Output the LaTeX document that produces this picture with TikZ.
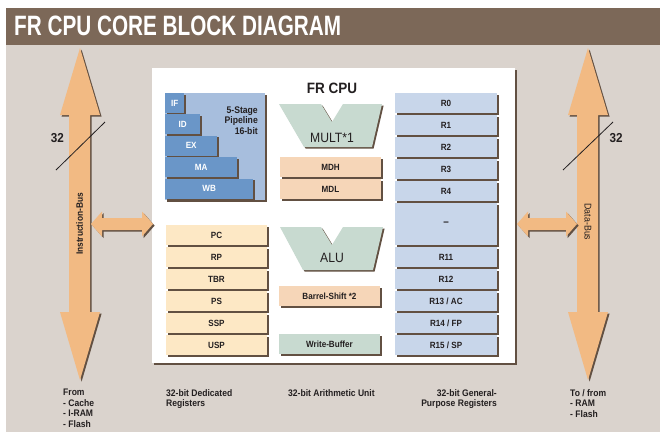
\documentclass[tikz,border=0pt]{standalone}
\usepackage{fontspec}
\setmainfont{Liberation Sans}[FakeStretch=0.9]
\newfontfamily\titlefont{Liberation Sans}[FakeStretch=0.74]
\usetikzlibrary{shadows}
\definecolor{bgc}{RGB}{218,211,205}
\definecolor{barc}{RGB}{124,104,88}
\definecolor{arrc}{RGB}{242,186,131}
\definecolor{shc}{RGB}{98,80,66}
\definecolor{pipec}{RGB}{167,190,221}
\definecolor{stagec}{RGB}{106,150,200}
\definecolor{genc}{RGB}{200,214,234}
\definecolor{dedc}{RGB}{253,232,197}
\definecolor{peachc}{RGB}{246,214,184}
\definecolor{aluc}{RGB}{200,218,208}
\definecolor{ink}{RGB}{35,31,32}
\tikzset{
  shd/.style={drop shadow={shadow xshift=1.6pt, shadow yshift=-1.6pt, fill=shc, opacity=1}},
  lbl/.style={font=\bfseries\fontsize{9}{10}\selectfont, text=ink},
  regbox/.style={shd, lbl, inner sep=0pt, minimum height=20pt},
  stagebox/.style={shd, font=\bfseries\fontsize{9}{10}\selectfont, text=white, fill=stagec, inner sep=0pt, minimum height=20pt, anchor=west},
  botlbl/.style={font=\bfseries\fontsize{9.5}{10.6}\selectfont, text=ink, inner sep=0pt, anchor=north west, align=left},
  num/.style={font=\bfseries\fontsize{13}{14}\selectfont, text=ink, inner sep=0pt, anchor=base},
  bigtxt/.style={font=\fontsize{13.5}{15}\selectfont, text=ink, inner sep=0pt, anchor=base},
}
\begin{document}
\begin{tikzpicture}[x=1pt,y=-1pt]
\useasboundingbox (0,0) rectangle (660,432);
% background and title
\fill[bgc] (6,45) rectangle (660,432);
\fill[barc] (6,8) rectangle (660,45);
\node[anchor=base west, inner sep=0pt, text=white, font=\titlefont\bfseries\fontsize{28}{30}\selectfont] (title) at (14,35) {FR CPU CORE BLOCK DIAGRAM};

% buses
\fill[arrc, shd] (80,48) -- (100,115) -- (90,115) -- (90,312) -- (100,312) -- (80,380) -- (60,312) -- (69,312) -- (69,115) -- (60,115) -- cycle;
\fill[arrc, shd] (588,48) -- (608,115) -- (598,115) -- (598,312) -- (608,312) -- (588,380) -- (568,312) -- (577,312) -- (577,115) -- (568,115) -- cycle;
\node[rotate=90, inner sep=0pt, font=\bfseries\fontsize{9.3}{10}\selectfont, text=ink] (ibus) at (79.5,224) {Instruction-Bus};
\node[rotate=-90, inner sep=0pt, font=\fontsize{9.8}{10}\selectfont, text=ink] (dbus) at (588,222) {Data-Bus};
\draw[ink, line width=0.8pt] (56,170) -- (105,122);
\draw[ink, line width=0.8pt] (563,170) -- (613,122);
\node[num] (w1) at (57.5,142) {32};
\node[num] (w2) at (616,142) {32};

% main box
\fill[white, drop shadow={shadow xshift=2pt, shadow yshift=-2pt, fill=shc, opacity=1}] (152,68) rectangle (515,363);
\node[anchor=base, inner sep=0pt, text=ink, font=\bfseries\fontsize{15}{16}\selectfont] (cpu) at (332,93) {FR CPU};

% side arrows
\fill[arrc, shd] (91,224) -- (102,211.5) -- (102,218) -- (142,218) -- (142,211.5) -- (153,224) -- (142,236.5) -- (142,230) -- (102,230) -- (102,236.5) -- cycle;
\fill[arrc, shd] (517,224) -- (528,211.5) -- (528,218) -- (566,218) -- (566,211.5) -- (577,224) -- (566,236.5) -- (566,230) -- (528,230) -- (528,236.5) -- cycle;

% pipeline
\node[shd, fill=pipec, inner sep=0pt, minimum width=100pt, minimum height=107pt] (pipe) at (215,146.5) {};
\node[stagebox, minimum width=19pt] (if) at (165,103) {IF};
\node[stagebox, minimum width=35pt] (id) at (165,124.4) {ID};
\node[stagebox, minimum width=52pt] (ex) at (165,145.8) {EX};
\node[stagebox, minimum width=72pt] (ma) at (165,167.2) {MA};
\node[stagebox, minimum width=88pt] (wb) at (165,188.6) {WB};
\node[anchor=north east, inner sep=0pt, align=right, text=ink, font=\bfseries\fontsize{9.6}{10.4}\selectfont] (ptxt) at (258,106.5) {5-Stage\\Pipeline\\16-bit};

% MULT
\fill[aluc, shd] (279,104) -- (321,104) -- (332,122) -- (343,104) -- (382,104) -- (372,147) -- (304,147) -- cycle;
\node[bigtxt] (mult) at (332,142) {MULT*1};
\node[regbox, fill=peachc, minimum width=101pt] (mdh) at (330.5,167) {MDH};
\node[regbox, fill=peachc, minimum width=101pt] (mdl) at (330.5,189) {MDL};

% ALU
\fill[aluc, shd] (280,227) -- (321,227) -- (332,245) -- (343,227) -- (383,227) -- (373,270) -- (303,270) -- cycle;
\node[bigtxt] (alu) at (332,262) {ALU};
\node[regbox, fill=peachc, minimum width=101pt] (bsh) at (329.5,296) {Barrel-Shift *2};
\node[regbox, fill=aluc, minimum width=101pt] (wbuf) at (329.5,344) {Write-Buffer};

% dedicated registers
\node[regbox, fill=dedc, minimum width=101pt] (pc) at (216.5,235) {PC};
\node[regbox, fill=dedc, minimum width=101pt] (rp) at (216.5,257) {RP};
\node[regbox, fill=dedc, minimum width=101pt] (tbr) at (216.5,279) {TBR};
\node[regbox, fill=dedc, minimum width=101pt] (ps) at (216.5,301) {PS};
\node[regbox, fill=dedc, minimum width=101pt] (ssp) at (216.5,323) {SSP};
\node[regbox, fill=dedc, minimum width=101pt] (usp) at (216.5,345) {USP};

% general registers
\node[regbox, fill=genc, minimum width=102pt] (r0) at (446,103) {R0};
\node[regbox, fill=genc, minimum width=102pt] (r1) at (446,125) {R1};
\node[regbox, fill=genc, minimum width=102pt] (r2) at (446,147) {R2};
\node[regbox, fill=genc, minimum width=102pt] (r3) at (446,169) {R3};
\node[regbox, fill=genc, minimum width=102pt] (r4) at (446,191) {R4};
\node[regbox, fill=genc, minimum width=102pt, minimum height=42pt, font=\bfseries\fontsize{11}{12}\selectfont] (rdots) at (446,224) {\textendash};
\node[regbox, fill=genc, minimum width=102pt] (r11) at (446,257) {R11};
\node[regbox, fill=genc, minimum width=102pt] (r12) at (446,279) {R12};
\node[regbox, fill=genc, minimum width=102pt] (r13) at (446,301) {R13 / AC};
\node[regbox, fill=genc, minimum width=102pt] (r14) at (446,323) {R14 / FP};
\node[regbox, fill=genc, minimum width=102pt] (r15) at (446,345) {R15 / SP};

% bottom captions
\node[botlbl] (from) at (63,389) {From\\- Cache\\- I-RAM\\- Flash};
\node[botlbl] (dedlbl) at (166,389) {32-bit Dedicated\\Registers};
\node[botlbl] (arlbl) at (288,389) {32-bit Arithmetic Unit};
\node[botlbl, anchor=north east, align=right] (genlbl) at (497,389) {32-bit General-\\Purpose Registers};
\node[botlbl] (tofrom) at (570,389) {To / from\\- RAM\\- Flash};
\end{tikzpicture}
\end{document}
